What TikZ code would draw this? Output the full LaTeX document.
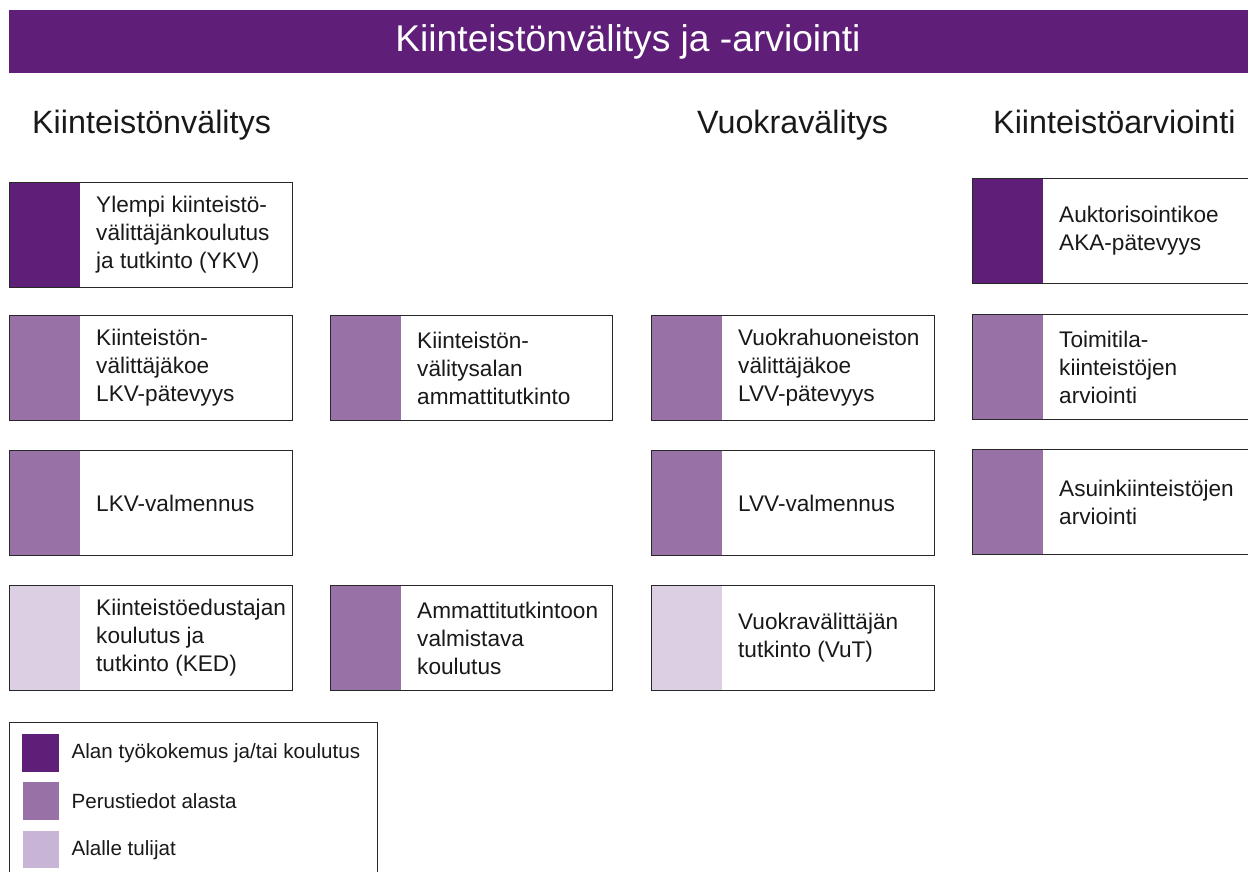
\documentclass[tikz,border=0pt]{standalone}
\usepackage{fontspec}
\setmainfont{Liberation Sans}
\definecolor{dkp}{RGB}{95,31,120}
\definecolor{mdp}{RGB}{152,114,166}
\definecolor{ltp}{RGB}{220,207,227}
\definecolor{lgp}{RGB}{200,180,213}
\definecolor{boxline}{RGB}{40,40,40}
\definecolor{txt}{RGB}{25,25,25}
\begin{document}
\begin{tikzpicture}[x=1pt,y=-1pt,
  box/.style={draw=boxline, line width=1.2pt, minimum width=283pt, minimum height=105pt,
    anchor=north west, inner sep=0pt,
    path picture={\fill[#1] (path picture bounding box.north west) rectangle ([xshift=70pt]path picture bounding box.south west);}},
  lbl/.style={anchor=west, align=left, inner sep=0pt, text=txt, font=\fontsize{22.6}{28}\selectfont},
  head/.style={anchor=base west, inner sep=0pt, text=txt, font=\fontsize{32.3}{38}\selectfont},
  legsq/.style={inner sep=0pt},
  legtxt/.style={anchor=west, inner sep=0pt, text=txt, font=\fontsize{20.6}{24}\selectfont}]
\useasboundingbox (0,0) rectangle (1248,872);
\clip (0,0) rectangle (1248,872);
% title
\node (bar) [fill=dkp, anchor=north west, minimum width=1239pt, minimum height=63pt, inner sep=0pt] at (9,10) {};
\node (title) [text=white, font=\fontsize{37.2}{42}\selectfont, inner sep=0pt] at (628,42) {Kiinteistönvälitys ja -arviointi};
% headings
\node (h1) [head] at (32,134) {Kiinteistönvälitys};
\node (h3) [head] at (697,134) {Vuokravälitys};
\node (h4) [head] at (993,134) {Kiinteistöarviointi};
% column 1
\node (a1) [box=dkp] at (9,182) {};
\node (ta1) [lbl] at ([xshift=87pt]a1.west) {Ylempi kiinteistö-\\välittäjänkoulutus\\ja tutkinto (YKV)};
\node (a2) [box=mdp] at (9,315) {};
\node (ta2) [lbl] at ([xshift=87pt]a2.west) {Kiinteistön-\\välittäjäkoe\\LKV-pätevyys};
\node (a3) [box=mdp] at (9,450) {};
\node (ta3) [lbl] at ([xshift=87pt]a3.west) {LKV-valmennus};
\node (a4) [box=ltp] at (9,585) {};
\node (ta4) [lbl] at ([xshift=87pt]a4.west) {Kiinteistöedustajan\\koulutus ja\\tutkinto (KED)};
% column 2
\node (b2) [box=mdp, minimum width=282pt] at (330,315) {};
\node (tb2) [lbl] at ([xshift=87pt]b2.west) {Kiinteistön-\\välitysalan\\ammattitutkinto};
\node (b4) [box=mdp, minimum width=282pt] at (330,585) {};
\node (tb4) [lbl] at ([xshift=87pt]b4.west) {Ammattitutkintoon\\valmistava\\koulutus};
% column 3
\node (c2) [box=mdp] at (651,315) {};
\node (tc2) [lbl] at ([xshift=87pt]c2.west) {Vuokrahuoneiston\\välittäjäkoe\\LVV-pätevyys};
\node (c3) [box=mdp] at (651,450) {};
\node (tc3) [lbl] at ([xshift=87pt]c3.west) {LVV-valmennus};
\node (c4) [box=ltp] at (651,585) {};
\node (tc4) [lbl] at ([xshift=87pt]c4.west) {Vuokravälittäjän\\tutkinto (VuT)};
% column 4
\node (d1) [box=dkp] at (972,178) {};
\node (td1) [lbl] at ([xshift=87pt]d1.west) {Auktorisointikoe\\AKA-pätevyys};
\node (d2) [box=mdp] at (972,314) {};
\node (td2) [lbl] at ([xshift=87pt]d2.west) {Toimitila-\\kiinteistöjen\\arviointi};
\node (d3) [box=mdp] at (972,449) {};
\node (td3) [lbl] at ([xshift=87pt]d3.west) {Asuinkiinteistöjen\\arviointi};
% legend
\node (leg) [draw=boxline, line width=1.2pt, anchor=north west, minimum width=368pt, minimum height=170pt, inner sep=0pt] at (9,722) {};
\node (s1) [legsq, fill=dkp, minimum width=37pt, minimum height=38pt, anchor=north west] at (22,734) {};
\node (l1) [legtxt] at ([xshift=12pt]s1.east) {Alan työkokemus ja/tai koulutus};
\node (s2) [legsq, fill=mdp, minimum width=36pt, minimum height=38pt, anchor=north west] at (23,782) {};
\node (l2) [legtxt] at ([xshift=12pt]s2.east) {Perustiedot alasta};
\node (s3) [legsq, fill=lgp, minimum width=36pt, minimum height=37pt, anchor=north west] at (23,831) {};
\node (l3) [legtxt] at ([xshift=12pt]s3.east) {Alalle tulijat};
\end{tikzpicture}
\end{document}
